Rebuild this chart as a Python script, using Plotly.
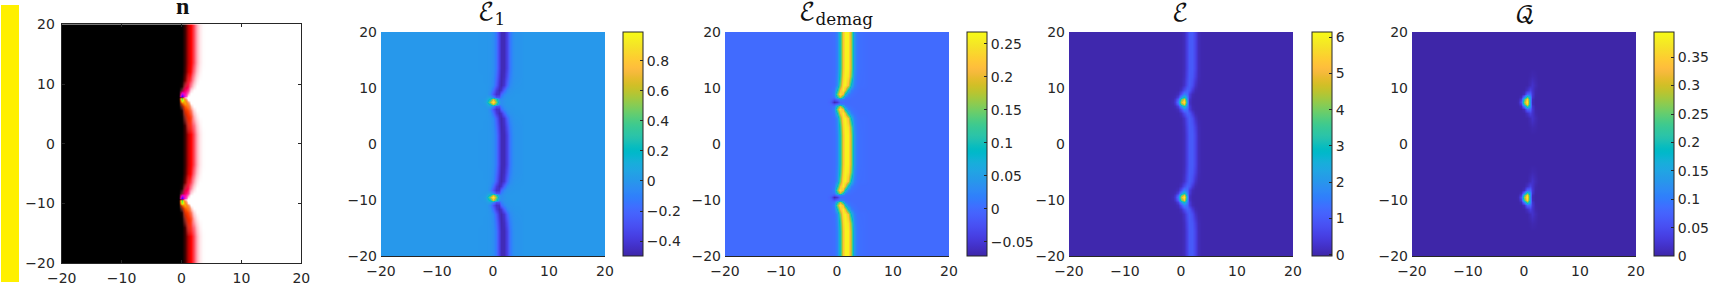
import plotly.graph_objects as go

W, H = 1710, 286
# Column and row positions of the estimated field samples (data units)
X = [-20, -3, -2, -1.5, -1, -0.5, 0, 0.5, 1, 1.5, 2, 2.5, 3, 3.5, 4, 5, 5.5, 20]
Y = [-20, -15.5, -14, -12.5, -11.5, -10.8, -10.3, -9.9, -9.5, -9.1, -8.7, -8.2, -7.5, -6.5, -5, -3.5, -0.9,
     1.6, 3.1, 4.6, 5.6, 6.3, 6.8, 7.2, 7.6, 8, 8.4, 8.9, 9.6, 10.6, 12.1, 13.6, 20]
# Which wall profile each row shows (l = below a cusp, u = above a cusp)
ROW_KIND = ["far", "far", "l45", "l3", "l2", "l13", "l08", "l04", "d0", "u04", "u08", "u13", "u2", "u3", "u45", "far", "far",
            "far", "l45", "l3", "l2", "l13", "l08", "l04", "d0", "u04", "u08", "u13", "u2", "u3", "u45", "far", "far"]

E1 = {
 "far": [0,0,-.002,-.004,-.006,-.01,-.04,-.14,-.35,-.47,-.47,-.35,-.14,-.04,-.02,-.01,0,0],
 "45":  [0,0,0,-.004,-.006,-.012,-.05,-.18,-.38,-.48,-.45,-.3,-.11,-.035,-.02,-.01,0,0],
 "3":   [0,0,0,0,-.005,-.015,-.07,-.24,-.43,-.48,-.41,-.21,-.06,-.02,-.01,-.005,0,0],
 "2":   [0,0,0,0,-.005,-.03,-.18,-.38,-.47,-.42,-.22,-.07,-.02,-.01,-.005,0,0,0],
 "13":  [0,0,0,.002,-.005,-.08,-.28,-.43,-.42,-.2,-.07,-.02,-.01,-.005,0,0,0,0],
 "08":  [0,0,.002,.005,.03,.05,-.08,-.3,-.28,-.1,-.03,-.01,-.005,0,0,0,0,0],
 "04":  [0,0,.005,.02,.07,.24,.66,.3,-.03,-.05,-.015,-.005,0,0,0,0,0,0],
 "d0":  [0,0,.01,.04,.16,.56,.99,.5,.02,-.04,-.02,-.005,0,0,0,0,0,0],
}
E_DEMAG = {
 "far": [0,0,0,0,0,.002,.02,.1,.22,.26,.26,.17,.04,.01,.004,.001,0,0],
 "45":  [0,0,0,0,0,.002,.025,.11,.235,.26,.25,.15,.03,.008,.003,.001,0,0],
 "3":   [0,0,0,0,0,.003,.03,.15,.25,.26,.21,.08,.02,.005,.002,.001,0,0],
 "2":   [0,0,0,0,.001,.01,.09,.21,.26,.2,.08,.02,.005,.002,0,0,0,0],
 "13":  [0,0,0,0,.001,.02,.15,.25,.2,.08,.02,.005,.002,0,0,0,0,0],
 "08":  [0,0,0,0,0,.005,.09,.18,.09,.02,.005,.002,0,0,0,0,0,0],
 "04":  [0,0,0,-.002,-.006,-.02,0,.02,.012,.003,.001,0,0,0,0,0,0,0],
 "d0":  [0,0,0,-.005,-.02,-.068,-.05,-.005,0,0,0,0,0,0,0,0,0,0],
}
E_TOTAL = {
 "far": [0,0,0,0,0,.005,.02,.12,.55,.95,.98,.6,.12,.02,.005,0,0,0],
 "45":  [0,0,0,0,0,.005,.02,.15,.62,.98,.92,.5,.1,.02,.005,0,0,0],
 "3":   [0,0,0,0,0,.005,.03,.25,.75,1.02,.75,.25,.03,.01,0,0,0,0],
 "2":   [0,0,0,0,.005,.02,.2,.7,1.1,.95,.4,.07,.01,0,0,0,0,0],
 "13":  [0,0,0,.01,.03,.15,.8,1.6,1.3,.5,.1,.01,0,0,0,0,0,0],
 "08":  [0,0,.005,.03,.1,.5,1.9,3.0,1.6,.45,.06,.005,0,0,0,0,0,0],
 "04":  [0,0,.01,.06,.3,1.1,3.7,5.0,2,.3,.03,0,0,0,0,0,0,0],
 "d0":  [0,0,.01,.1,.4,1.5,4.6,6.05,2.3,.25,.02,0,0,0,0,0,0,0],
}
Q_DENSITY = {
 "far": [0,0,0,0,0,0,0,0,0,0,0,0,0,0,0,0,0,0],
 "45":  [0,0,0,0,0,0,0,0,.002,.005,.003,0,0,0,0,0,0,0],
 "3":   [0,0,0,0,0,0,0,.001,.01,.018,.008,.001,0,0,0,0,0,0],
 "2":   [0,0,0,0,0,0,.001,.015,.035,.02,.004,0,0,0,0,0,0,0],
 "13":  [0,0,0,0,0,0,.012,.075,.08,.025,.002,0,0,0,0,0,0,0],
 "08":  [0,0,0,0,0,.01,.1,.24,.13,.02,.001,0,0,0,0,0,0,0],
 "04":  [0,0,0,0,.002,.03,.22,.36,.14,.01,0,0,0,0,0,0,0,0],
 "d0":  [0,0,0,0,.004,.05,.27,.39,.13,.008,0,0,0,0,0,0,0,0],
}
# In-plane to out-of-plane level of n: 0 black, .5 red, 1 white
N_LEVEL = {
 "far": [0,0,0,0,0,0,0,.12,.36,.5,.6,.78,.93,.99,1,1,1,1],
 "45":  [0,0,0,0,0,0,0,.14,.4,.52,.66,.84,.96,1,1,1,1,1],
 "3":   [0,0,0,0,0,0,.02,.24,.46,.58,.78,.94,1,1,1,1,1,1],
 "2":   [0,0,0,0,0,0,.06,.36,.52,.7,.9,1,1,1,1,1,1,1],
 "13":  [0,0,0,0,0,0,.14,.46,.65,.9,1,1,1,1,1,1,1,1],
 "08":  [0,0,0,0,0,0,.22,.55,.85,1,1,1,1,1,1,1,1,1],
 "04":  [0,0,0,0,0,0,.3,.75,1,1,1,1,1,1,1,1,1,1],
 "d0":  [0,0,0,0,0,.01,.35,.9,1,1,1,1,1,1,1,1,1,1],
}
# Hue of n near the cusps: negative warm side, positive cool side
N_TINT = {
 "far": [0,0,0,0,0,0,0,0,0,0,0,0,0,0,0,0,0,0],
 "u45": [0,0,0,0,0,0,0,0,0,0,0,0,0,0,0,0,0,0],
 "u3":  [0,0,0,0,0,0,0,0,.08,.04,0,0,0,0,0,0,0,0],
 "u2":  [0,0,0,0,0,0,0,.12,.15,.05,0,0,0,0,0,0,0,0],
 "u13": [0,0,0,0,0,0,.1,.25,.2,.03,0,0,0,0,0,0,0,0],
 "u08": [0,0,0,0,0,0,.5,.35,.15,0,0,0,0,0,0,0,0,0],
 "u04": [0,0,0,0,0,0,.9,.35,.05,0,0,0,0,0,0,0,0,0],
 "d0":  [0,0,0,0,0,0,-1,-.25,0,0,0,0,0,0,0,0,0,0],
 "l04": [0,0,0,0,0,0,-.8,-.45,-.1,0,0,0,0,0,0,0,0,0],
 "l08": [0,0,0,0,0,0,-.3,-.5,-.3,-.03,0,0,0,0,0,0,0,0],
 "l13": [0,0,0,0,0,0,-.1,-.3,-.35,-.12,0,0,0,0,0,0,0,0],
 "l2":  [0,0,0,0,0,0,0,-.2,-.25,-.15,-.03,0,0,0,0,0,0,0],
 "l3":  [0,0,0,0,0,0,0,-.1,-.18,-.18,-.05,0,0,0,0,0,0,0],
 "l45": [0,0,0,0,0,0,0,0,-.1,-.1,0,0,0,0,0,0,0,0],
}

TICKS = [-20, -10, 0, 10, 20]
E1_TICKS = [-0.4, -0.2, 0, 0.2, 0.4, 0.6, 0.8]
DEMAG_TICKS = [-0.05, 0, 0.05, 0.1, 0.15, 0.2, 0.25]
TOTAL_TICKS = [0, 1, 2, 3, 4, 5, 6]
Q_TICKS = [0, 0.05, 0.1, 0.15, 0.2, 0.25, 0.3, 0.35]

PARULA = [(0.2422,0.1504,0.6603),(0.2504,0.1650,0.7076),(0.2578,0.1818,0.7511),(0.2647,0.1978,0.7952),
(0.2706,0.2147,0.8364),(0.2751,0.2342,0.8710),(0.2783,0.2559,0.8991),(0.2803,0.2782,0.9221),
(0.2813,0.3006,0.9414),(0.2810,0.3228,0.9579),(0.2795,0.3447,0.9717),(0.2760,0.3667,0.9829),
(0.2699,0.3892,0.9906),(0.2602,0.4123,0.9952),(0.2440,0.4358,0.9988),(0.2206,0.4603,0.9973),
(0.1963,0.4847,0.9892),(0.1834,0.5074,0.9798),(0.1786,0.5289,0.9682),(0.1764,0.5499,0.9520),
(0.1687,0.5703,0.9359),(0.1540,0.5902,0.9218),(0.1460,0.6091,0.9079),(0.1380,0.6276,0.8973),
(0.1248,0.6459,0.8883),(0.1113,0.6635,0.8763),(0.0952,0.6798,0.8598),(0.0689,0.6948,0.8394),
(0.0297,0.7082,0.8163),(0.0036,0.7203,0.7917),(0.0067,0.7312,0.7660),(0.0433,0.7411,0.7394),
(0.0964,0.7500,0.7120),(0.1408,0.7584,0.6842),(0.1717,0.7670,0.6554),(0.1938,0.7758,0.6251),
(0.2161,0.7843,0.5923),(0.2470,0.7918,0.5567),(0.2906,0.7973,0.5188),(0.3406,0.8008,0.4789),
(0.3909,0.8029,0.4354),(0.4456,0.8024,0.3909),(0.5044,0.7993,0.3480),(0.5616,0.7942,0.3045),
(0.6174,0.7876,0.2612),(0.6720,0.7793,0.2227),(0.7242,0.7698,0.1910),(0.7738,0.7598,0.1646),
(0.8203,0.7498,0.1535),(0.8634,0.7406,0.1596),(0.9035,0.7330,0.1774),(0.9393,0.7288,0.2100),
(0.9728,0.7298,0.2394),(0.9956,0.7434,0.2371),(0.9970,0.7659,0.2199),(0.9952,0.7893,0.2028),
(0.9892,0.8136,0.1885),(0.9786,0.8386,0.1766),(0.9676,0.8639,0.1643),(0.9610,0.8890,0.1537),
(0.9597,0.9135,0.1423),(0.9628,0.9373,0.1265),(0.9691,0.9606,0.1064),(0.9769,0.9839,0.0805)]
parula = [[i/63, f"rgb({r*255:.0f},{g*255:.0f},{b*255:.0f})"] for i,(r,g,b) in enumerate(PARULA)]
n_scale = [[0,"rgb(0,0,0)"],[.25,"rgb(125,0,0)"],[.5,"rgb(255,0,0)"],[.62,"rgb(255,90,110)"],[.8,"rgb(255,185,195)"],[1,"rgb(255,255,255)"]]
tint_scale = [[0,"rgba(0,255,90,1)"],[.15,"rgba(230,255,0,1)"],[.3,"rgba(255,140,0,.9)"],[.42,"rgba(255,90,0,.45)"],
              [.5,"rgba(255,255,255,0)"],[.58,"rgba(255,0,150,.45)"],[.7,"rgba(255,0,220,.9)"],[.85,"rgba(120,0,255,1)"],[1,"rgba(0,0,255,1)"]]

def grid(table):
    return [table[k if k in table else k[1:]] for k in ROW_KIND]

TEXT = "#262626"
FONT = "DejaVu Sans"
fig = go.Figure()

# panel: (x0, x1, y0, y1) in px
panels = [(61.7,301.3,24.3,263.3),(381,605,32,256.3),(725,949,32,256.3),(1069,1293,32,256.3),(1412,1636,32,256.3)]
cbars = [None,(623.3,E1,-0.5,0.99,E1_TICKS),(967,E_DEMAG,-0.072,0.2675,DEMAG_TICKS),
         (1311.7,E_TOTAL,-0.04,6.14,TOTAL_TICKS),(1654,Q_DENSITY,0,0.394,Q_TICKS)]

layout = dict(width=W,height=H,margin=dict(l=0,r=0,t=0,b=0,autoexpand=False),paper_bgcolor="white",plot_bgcolor="white",showlegend=False,
              annotations=[],shapes=[])
for i,(x0,x1,y0,y1) in enumerate(panels):
    n = "" if i==0 else str(i+1)
    box = i==0
    layout[f"xaxis{n}"] = dict(domain=[x0/W,x1/W],range=[-20,20],anchor=f"y{n}",tickvals=TICKS,ticks="inside" if box else "",
        ticklen=3,tickcolor=TEXT,showgrid=False,zeroline=False,showline=True,linecolor=TEXT,linewidth=1,ticklabelstandoff=2,
        mirror="ticks" if box else False,tickfont=dict(family=FONT,size=14,color=TEXT))
    layout[f"yaxis{n}"] = dict(domain=[1-y1/H,1-y0/H],range=[-20,20],anchor=f"x{n}",tickvals=TICKS,ticks="inside" if box else "",
        ticklen=3,tickcolor=TEXT,showgrid=False,zeroline=False,showline=box,linecolor=TEXT,linewidth=1,ticklabelstandoff=3,
        mirror="ticks" if box else False,tickfont=dict(family=FONT,size=14,color=TEXT))
    if i==0:
        fig.add_trace(go.Heatmap(x=X,y=Y,z=grid(N_LEVEL),zmin=0,zmax=1,colorscale=n_scale,zsmooth="best",showscale=False,xaxis="x",yaxis="y"))
        fig.add_trace(go.Heatmap(x=X,y=Y,z=[N_TINT[k] for k in ROW_KIND],zmin=-1,zmax=1,colorscale=tint_scale,zsmooth="best",showscale=False,xaxis="x",yaxis="y"))
    else:
        cx,table,zmin,zmax,ticks = cbars[i]
        fig.add_trace(go.Heatmap(x=X,y=Y,z=grid(table),zmin=zmin,zmax=zmax,colorscale=parula,zsmooth="best",xaxis=f"x{n}",yaxis=f"y{n}",
            colorbar=dict(x=cx/W,xanchor="left",y=1-(y0+y1)/2/H,yanchor="middle",len=(y1-y0)/H,lenmode="fraction",thickness=20,thicknessmode="pixels",
                          xpad=0,ypad=0,outlinewidth=1,outlinecolor=TEXT,ticks="inside",ticklen=3,tickcolor=TEXT,tickvals=ticks,
                          tickfont=dict(family=FONT,size=14,color=TEXT))))

layout["shapes"].append(dict(type="rect",xref="paper",yref="paper",x0=1/W,x1=19/W,y0=1-282/H,y1=1-5/H,fillcolor="#FFF000",line_width=0))
titles = [("<b>n</b>",182,6,"Liberation Serif, DejaVu Serif",24),
          ("ℰ<sub>1</sub>",491,14,"DejaVu Math TeX Gyre, DejaVu Serif",24),
          ("ℰ<sub>demag</sub>",836,15,"DejaVu Math TeX Gyre, DejaVu Serif",24),
          ("ℰ",1180,14,"DejaVu Math TeX Gyre, DejaVu Serif",24),
          ("𝒬",1525,16,"DejaVu Math TeX Gyre, DejaVu Serif",24)]
for t,x,y,f,s in titles:
    layout["annotations"].append(dict(text=t,x=x/W,y=1-y/H,xref="paper",yref="paper",xanchor="center",yanchor="middle",showarrow=False,
                                      font=dict(family=f,size=s,color="#111111")))
fig.update_layout(**layout)
fig.write_html("out.html",config=dict(displayModeBar=False),post_script="document.body.style.margin='0';document.body.style.overflow='hidden';")
